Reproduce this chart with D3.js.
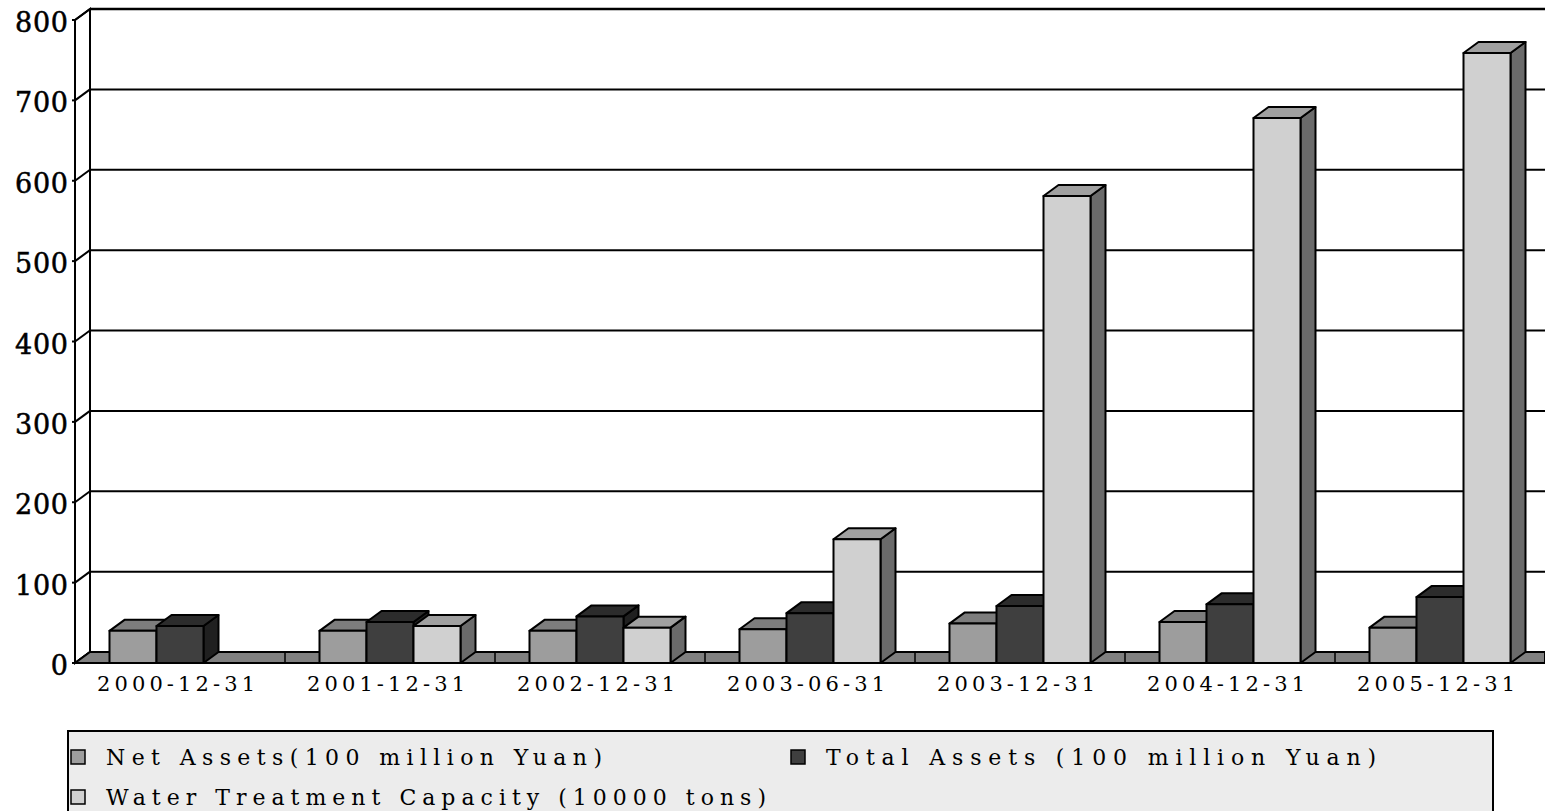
<!DOCTYPE html>
<html>
<head>
<meta charset="utf-8">
<script src="https://cdn.jsdelivr.net/npm/d3@7"></script>
<style>
  body { margin: 0; background: #fff; }
  text { font-family: "DejaVu Serif", "Liberation Serif", serif; }
</style>
</head>
<body>
<div id="chart"></div>
<script>
var w = 1545;
var h = 811;

// data
var categories = ["2000-12-31", "2001-12-31", "2002-12-31", "2003-06-31", "2003-12-31", "2004-12-31", "2005-12-31"];
var netAssets = [40, 40, 40, 42, 49, 51, 44];
var totalAssets = [46, 51, 58, 62, 71, 73, 82];
var waterCapacity = [0, 46, 44, 154, 581, 678, 759];
var seriesNames = ["Net Assets(100 million Yuan)", "Total Assets (100 million Yuan)", "Water Treatment Capacity (10000 tons)"];
var yTicks = [0, 100, 200, 300, 400, 500, 600, 700, 800];

// colours: front, top, side
var colors = [
	{front: "#9d9d9d", top: "#7d7d7d", side: "#5d5d5d"},
	{front: "#3f3f3f", top: "#2c2c2c", side: "#202020"},
	{front: "#d0d0d0", top: "#a0a0a0", side: "#6b6b6b"}
];

var left = 75, right = 1545;
var dx = 15, dy = 11;   // depth offset
var base = 663;

var x = d3.scaleBand().domain(categories).range([left, right]);
var xs = d3.scaleBand().domain([0, 1, 2]).range([0, x.bandwidth()]).paddingOuter(0.734);
var y = d3.scaleLinear().domain([0, 800]).range([base, 20]);

var svg = d3.select("#chart")
			.append("svg")
			.attr("width", w)
			.attr("height", h);

// left wall
svg.append("polygon")
	.attr("points", [[left, y(800)], [left + dx, y(800) - dy], [left + dx, base - dy], [left, base]].join(" "))
	.attr("fill", "#fff")
	.attr("stroke", "#000")
	.attr("stroke-width", 2);

// gridlines on back wall + diagonals on left wall
yTicks.forEach(function(t) {
	if (t > 0) {
		svg.append("line")
			.attr("x1", left + dx).attr("x2", right)
			.attr("y1", y(t) - dy).attr("y2", y(t) - dy)
			.attr("stroke", "#000")
			.attr("stroke-width", t == 800 ? 2.5 : 2);
	}
	svg.append("line")
		.attr("x1", left).attr("x2", left + dx)
		.attr("y1", y(t)).attr("y2", y(t) - dy)
		.attr("stroke", "#000")
		.attr("stroke-width", 2);
	svg.append("line")
		.attr("x1", left - 3).attr("x2", left)
		.attr("y1", y(t)).attr("y2", y(t))
		.attr("stroke", "#000")
		.attr("stroke-width", 2);
});

// floor
svg.append("polygon")
	.attr("points", [[left, base], [left + dx, base - dy], [right, base - dy], [right, base]].join(" "))
	.attr("fill", "#808080")
	.attr("stroke", "#000")
	.attr("stroke-width", 2);

categories.forEach(function(c, i) {
	if (i > 0) {
		svg.append("line")
			.attr("x1", x(c)).attr("x2", x(c))
			.attr("y1", base - dy).attr("y2", base)
			.attr("stroke", "#000")
			.attr("stroke-width", 1.5);
	}
});

// bars
var allSeries = [netAssets, totalAssets, waterCapacity];
var bars = [];
categories.forEach(function(c, i) {
	allSeries.forEach(function(s, j) {
		if (s[i] > 0) bars.push({cat: c, s: j, v: s[i]});
	});
});

var g = svg.selectAll("g.bar")
	.data(bars)
	.enter()
	.append("g")
	.attr("class", "bar");

g.each(function(d) {
	var x0 = x(d.cat) + xs(d.s);
	var x1 = x0 + xs.bandwidth();
	var yt = y(d.v);
	var sel = d3.select(this);
	sel.append("polygon")
		.attr("points", [[x1, yt], [x1 + dx, yt - dy], [x1 + dx, base - dy], [x1, base]].join(" "))
		.attr("fill", colors[d.s].side);
	sel.append("polygon")
		.attr("points", [[x0, yt], [x0 + dx, yt - dy], [x1 + dx, yt - dy], [x1, yt]].join(" "))
		.attr("fill", colors[d.s].top);
	sel.append("rect")
		.attr("x", x0)
		.attr("y", yt)
		.attr("width", x1 - x0)
		.attr("height", base - yt)
		.attr("fill", colors[d.s].front);
	sel.selectAll("*")
		.attr("stroke", "#000")
		.attr("stroke-width", 2)
		.attr("stroke-linejoin", "round");
});

// front axis line
svg.append("line")
	.attr("x1", left).attr("x2", left)
	.attr("y1", y(800)).attr("y2", base)
	.attr("stroke", "#000")
	.attr("stroke-width", 2);

// y labels
svg.selectAll("text.ylab")
	.data(yTicks)
	.enter()
	.append("text")
	.attr("class", "ylab")
	.attr("x", 68)
	.attr("y", function(d) { return y(d) + 12; })
	.attr("text-anchor", "end")
	.attr("font-size", "27px")
	.attr("stroke", "#000")
	.attr("stroke-width", 0.5)
	.attr("textLength", function(d) { return d == 0 ? 17 : 53; })
	.attr("lengthAdjust", "spacing")
	.text(function(d) { return d; });

// category labels
svg.selectAll("text.xlab")
	.data(categories)
	.enter()
	.append("text")
	.attr("class", "xlab")
	.attr("x", function(d) { return x(d) + x.bandwidth() / 2 - 83; })
	.attr("y", 691)
	.attr("font-size", "21px")
	.attr("textLength", 158)
	.attr("lengthAdjust", "spacing")
	.text(function(d) { return d; });

// legend
svg.append("rect")
	.attr("x", 68)
	.attr("y", 731)
	.attr("width", 1425)
	.attr("height", 100)
	.attr("fill", "#ececec")
	.attr("stroke", "#000")
	.attr("stroke-width", 2);

var legendPos = [[70, 757], [790, 757], [70, 797]];
var legendLen = [496, 550, 660];
var lg = svg.selectAll("g.legend")
	.data(seriesNames)
	.enter()
	.append("g")
	.attr("class", "legend")
	.attr("transform", function(d, i) { return "translate(" + legendPos[i][0] + "," + legendPos[i][1] + ")"; });

lg.append("rect")
	.attr("x", 1)
	.attr("y", -7)
	.attr("width", 14)
	.attr("height", 14)
	.attr("fill", function(d, i) { return colors[i].front; })
	.attr("stroke", "#000")
	.attr("stroke-width", 1.5);

lg.append("text")
	.attr("x", 36)
	.attr("y", 8)
	.attr("font-size", "22px")
	.attr("textLength", function(d, i) { return legendLen[i]; })
	.attr("lengthAdjust", "spacing")
	.text(function(d) { return d; });
</script>
</body>
</html>
